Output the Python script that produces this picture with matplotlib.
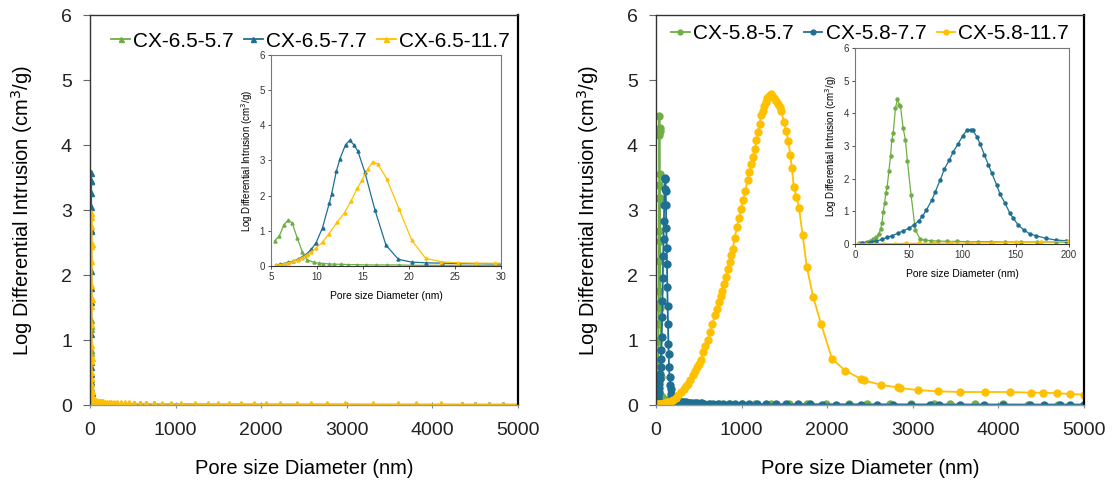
import matplotlib
matplotlib.use("Agg")
import matplotlib.pyplot as plt

plt.rcParams['font.family'] = ['Liberation Sans', 'DejaVu Sans']

GREEN = '#70AD47'
BLUE = '#1F6F93'
GOLD = '#FFC000'

# ---------------- Left panel (CX-6.5 series) ----------------
labels_left = ['CX-6.5-5.7', 'CX-6.5-7.7', 'CX-6.5-11.7']

green_l_x = [5.4, 5.9, 6.4, 6.9, 7.3, 7.85, 8.4, 8.9, 9.7, 10.2, 10.7, 11.3, 11.9, 12.6,
             13.4, 14.3, 15.3, 16.4, 17.6, 18.9, 20.3, 21.9, 23.6, 25.4, 27.3, 29.4]
green_l_y = [0.72, 0.85, 1.17, 1.31, 1.22, 0.80, 0.40, 0.18, 0.10, 0.08, 0.07, 0.06, 0.05, 0.05,
             0.04, 0.04, 0.03, 0.03, 0.03, 0.03, 0.02, 0.02, 0.02, 0.02, 0.02, 0.02]

blue_l_x = [5.5, 6.0, 6.4, 6.9, 7.4, 7.9, 8.4, 8.9, 9.4, 9.9, 10.6, 11.35, 11.6, 12.1, 12.5,
            13.1, 13.55, 14.0, 14.45, 15.2, 16.3, 17.5, 18.85, 20.3, 21.9, 23.6, 25.4, 27.3, 29.4]
blue_l_y = [0.03, 0.05, 0.07, 0.10, 0.14, 0.19, 0.26, 0.35, 0.48, 0.66, 1.09, 1.80, 2.06, 2.69, 3.05,
            3.45, 3.57, 3.45, 3.26, 2.67, 1.59, 0.59, 0.19, 0.11, 0.09, 0.08, 0.07, 0.07, 0.06]

gold_l_x = [5.5, 6.0, 6.4, 6.9, 7.4, 7.9, 8.4, 8.9, 9.4, 9.9, 10.6, 11.3, 12.2, 13.0, 13.7,
            14.4, 14.9, 15.5, 16.05, 16.6, 17.6, 18.9, 20.3, 21.8, 23.5, 25.3, 27.3, 29.4]
gold_l_y = [0.02, 0.04, 0.06, 0.09, 0.13, 0.18, 0.24, 0.32, 0.41, 0.51, 0.68, 0.92, 1.25, 1.52, 1.85,
            2.22, 2.45, 2.75, 2.96, 2.90, 2.47, 1.63, 0.73, 0.22, 0.12, 0.09, 0.08, 0.08]

# large-pore tail (beyond inset range), values read as near zero
tail_l_x = [32, 35, 38, 42, 46, 50, 55, 61, 67, 74, 82, 91, 101, 112, 125, 140, 157, 176, 198,
            223, 251, 283, 319, 360, 406, 458, 517, 584, 660, 746, 843, 952, 1061, 1227, 1373,
            1497, 1622, 1768, 1913, 2059, 2225, 2413, 2579, 2766, 2974, 3307, 3598, 3806, 4098,
            4347, 4493, 4659, 4825, 5000]
tail_green_l_y = [0.02, 0.02, 0.02, 0.02, 0.02, 0.02, 0.02, 0.015, 0.015, 0.015, 0.015, 0.012, 0.012,
                  0.01, 0.01, 0.01, 0.01, 0.01, 0.01, 0.008, 0.008, 0.008, 0.008, 0.007, 0.007, 0.006,
                  0.006, 0.006, 0.005, 0.005, 0.005, 0.005, 0.005, 0.004, 0.004, 0.004, 0.004, 0.004,
                  0.004, 0.003, 0.003, 0.003, 0.003, 0.003, 0.003, 0.003, 0.002, 0.002, 0.002, 0.002,
                  0.002, 0.002, 0.002, 0.002]
tail_blue_l_y = [0.05, 0.05, 0.05, 0.04, 0.04, 0.04, 0.04, 0.035, 0.035, 0.03, 0.03, 0.03, 0.025,
                 0.025, 0.02, 0.02, 0.02, 0.018, 0.016, 0.015, 0.014, 0.013, 0.012, 0.011, 0.01, 0.01,
                 0.009, 0.009, 0.008, 0.008, 0.007, 0.007, 0.007, 0.006, 0.006, 0.006, 0.005, 0.005,
                 0.005, 0.005, 0.004, 0.004, 0.004, 0.004, 0.004, 0.003, 0.003, 0.003, 0.003, 0.003,
                 0.003, 0.003, 0.003, 0.003]
tail_gold_l_y = [0.08, 0.08, 0.07, 0.07, 0.07, 0.06, 0.06, 0.06, 0.055, 0.05, 0.05, 0.05, 0.045,
                 0.045, 0.04, 0.04, 0.04, 0.035, 0.035, 0.03, 0.03, 0.03, 0.028, 0.026, 0.025, 0.024,
                 0.022, 0.02, 0.02, 0.018, 0.017, 0.016, 0.015, 0.014, 0.013, 0.012, 0.012, 0.011,
                 0.011, 0.01, 0.01, 0.01, 0.009, 0.009, 0.009, 0.008, 0.008, 0.008, 0.008, 0.007,
                 0.007, 0.007, 0.007, 0.007]

# ---------------- Right panel (CX-5.8 series) ----------------
labels_right = ['CX-5.8-5.7', 'CX-5.8-7.7', 'CX-5.8-11.7']

green_r_x = [3.7, 7, 11, 14, 17, 20, 22, 23.9, 25.2, 26.4, 27.6, 28.8, 30.1, 31.6, 33.2, 34.4,
             35.7, 37.8, 39.7, 41.5, 42.5, 45.0, 47.1, 49.0, 52.4, 56.4, 61.0, 65.7, 71, 78, 86,
             95, 105, 115, 127, 140, 155, 170, 188]
green_r_y = [0.02, 0.04, 0.07, 0.10, 0.15, 0.22, 0.30, 0.45, 0.65, 0.99, 1.25, 1.55, 1.76, 2.22,
             2.68, 3.19, 3.39, 4.16, 4.44, 4.26, 4.21, 3.55, 3.19, 2.53, 1.50, 0.43, 0.14, 0.12,
             0.10, 0.09, 0.08, 0.08, 0.07, 0.07, 0.07, 0.06, 0.06, 0.06, 0.06]
tail_green_r_x = [205, 230, 262, 300, 345, 400, 465, 540, 630, 735, 860, 1000, 1160, 1340, 1550,
                  1760, 1990, 2250, 2470, 2728, 2980, 3250, 3433, 3727, 4054, 4350, 4700, 5000]
tail_green_r_y = [0.05, 0.05, 0.04, 0.04, 0.035, 0.03, 0.03, 0.025, 0.02, 0.02, 0.018, 0.016, 0.015,
                  0.014, 0.013, 0.012, 0.011, 0.01, 0.01, 0.01, 0.009, 0.009, 0.008, 0.008, 0.008,
                  0.007, 0.007, 0.007]

blue_r_x = [3.7, 7, 10, 13, 16, 20, 25, 30, 35, 40, 45, 50, 55, 59.5, 63, 66.7, 71.9, 75, 79.7,
            83.4, 88, 92, 96.4, 100.8, 104.5, 108.2, 110, 113.8, 116.9, 120.9, 124.7, 127.8, 132.4,
            135.5, 140.2, 144.8, 147.9, 152.6, 157.8, 163.4, 169.6, 178.9, 188.2, 197.5]
blue_r_y = [0.01, 0.02, 0.03, 0.04, 0.06, 0.09, 0.14, 0.20, 0.26, 0.33, 0.40, 0.48, 0.58, 0.71,
            0.85, 1.04, 1.35, 1.60, 1.96, 2.29, 2.56, 2.83, 3.07, 3.32, 3.48, 3.50, 3.48, 3.29,
            3.07, 2.73, 2.42, 2.17, 1.81, 1.53, 1.25, 0.94, 0.79, 0.58, 0.43, 0.31, 0.25, 0.17,
            0.12, 0.10]
tail_blue_r_x = [210, 225, 242, 260, 280, 302, 326, 352, 380, 411, 445, 482, 522, 566, 614, 666,
                 722, 784, 851, 924, 1003, 1090, 1184, 1287, 1400, 1523, 1657, 1803, 1940, 2106,
                 2251, 2396, 2583, 2770, 2977, 3205, 3308, 3557, 3827, 4055, 4366, 4532, 4718,
                 4842, 5000]
tail_blue_r_y = [0.08, 0.07, 0.06, 0.055, 0.05, 0.045, 0.04, 0.04, 0.035, 0.03, 0.03, 0.025, 0.025,
                 0.02, 0.02, 0.018, 0.016, 0.015, 0.014, 0.013, 0.012, 0.011, 0.01, 0.01, 0.009,
                 0.009, 0.008, 0.008, 0.007, 0.007, 0.007, 0.006, 0.006, 0.006, 0.005, 0.005, 0.005,
                 0.005, 0.004, 0.004, 0.004, 0.004, 0.004, 0.004, 0.004]

gold_r_x = [3, 10, 18, 27, 37, 48, 60, 74, 90, 108, 128, 150, 174, 200, 230, 261, 292, 323, 350,
            373, 400, 427, 455, 481, 500, 522, 551, 578, 605, 634, 660, 688, 713, 738, 755, 771,
            792, 813, 838, 862, 880, 896, 920, 945, 970, 995, 1020, 1045, 1070, 1090, 1111, 1132,
            1153, 1174, 1194, 1210, 1227, 1245, 1265, 1282, 1298, 1320, 1339, 1360, 1381, 1400,
            1422, 1443, 1464, 1493, 1520, 1546, 1568, 1588, 1609, 1640, 1671, 1712, 1762, 1837,
            1928, 2056, 2210, 2396, 2430, 2624, 2830, 2852, 3060, 3300, 3557, 3840, 4138, 4386,
            4520, 4690, 4842, 5000]
gold_r_y = [0.0, 0.0, 0.01, 0.01, 0.01, 0.02, 0.02, 0.02, 0.03, 0.03, 0.04, 0.05, 0.06, 0.08,
            0.11, 0.15, 0.20, 0.25, 0.29, 0.33, 0.39, 0.46, 0.52, 0.58, 0.63, 0.69, 0.82, 0.91,
            1.00, 1.13, 1.25, 1.38, 1.48, 1.58, 1.67, 1.76, 1.86, 1.97, 2.09, 2.20, 2.31, 2.40,
            2.57, 2.74, 2.88, 3.02, 3.15, 3.30, 3.46, 3.58, 3.71, 3.82, 3.94, 4.07, 4.20, 4.33,
            4.46, 4.53, 4.60, 4.66, 4.72, 4.76, 4.78, 4.76, 4.72, 4.67, 4.63, 4.59, 4.53, 4.35,
            4.22, 4.06, 3.85, 3.64, 3.36, 3.20, 3.03, 2.62, 2.12, 1.66, 1.25, 0.71, 0.53, 0.40,
            0.38, 0.31, 0.27, 0.26, 0.23, 0.21, 0.20, 0.20, 0.20, 0.19, 0.19, 0.18, 0.17, 0.16]

main_xticks = [0, 1000, 2000, 3000, 4000, 5000]
main_yticks = [0, 1, 2, 3, 4, 5, 6]
inset_l_xticks = [5, 10, 15, 20, 25, 30]
inset_r_xticks = [0, 50, 100, 150, 200]

YLABEL = 'Log Differential Intrusion (cm$^3$/g)'
XLABEL = 'Pore size Diameter (nm)'

W, H = 1116, 490
fig = plt.figure(figsize=(W / 100, H / 100), dpi=100)


def frac(x0, y0, x1, y1):
    return [x0 / W, 1 - y1 / H, (x1 - x0) / W, (y1 - y0) / H]


def style_main(ax):
    ax.set_xlim(0, 5000)
    ax.set_ylim(0, 6)
    ax.set_xticks(main_xticks)
    ax.set_yticks(main_yticks)
    ax.tick_params(axis='both', labelsize=14, colors='#222222')
    ax.tick_params(axis='y', direction='out', length=5, width=0.8, color='#666666', pad=8)
    ax.tick_params(axis='x', direction='inout', length=5, width=0.8, color='#888888', pad=10)
    for s in ['top', 'left']:
        ax.spines[s].set_color('#333333')
        ax.spines[s].set_linewidth(1.0)
    ax.spines['right'].set_color('#000000')
    ax.spines['right'].set_linewidth(1.6)
    ax.spines['bottom'].set_color('#999999')
    ax.spines['bottom'].set_linewidth(1.0)
    ax.set_ylabel(YLABEL, fontsize=14.5, labelpad=19)
    ax.set_xlabel(XLABEL, fontsize=14.5, labelpad=14)


def style_inset(ax, xlim, xticks):
    ax.set_xlim(*xlim)
    ax.set_ylim(0, 6)
    ax.set_xticks(xticks)
    ax.set_yticks(main_yticks)
    ax.tick_params(axis='both', labelsize=7, colors='#333333', length=2.5, width=0.6, pad=2)
    for s in ax.spines.values():
        s.set_color('#777777')
        s.set_linewidth(0.8)
    ax.spines['bottom'].set_color('#333333')
    ax.set_ylabel(YLABEL, fontsize=7, labelpad=3)
    ax.set_xlabel(XLABEL, fontsize=7.5, labelpad=6)


# ----- Left main -----
axL = fig.add_axes(frac(90, 15, 518, 405))
mk_l = dict(marker='^', markersize=4.5, linewidth=1.3)
axL.plot(green_l_x + tail_l_x, green_l_y + tail_green_l_y, color=GREEN, label=labels_left[0], **mk_l)
axL.plot(blue_l_x + tail_l_x, blue_l_y + tail_blue_l_y, color=BLUE, label=labels_left[1], **mk_l)
axL.plot(gold_l_x + tail_l_x, gold_l_y + tail_gold_l_y, color=GOLD, label=labels_left[2], **mk_l)
style_main(axL)
axL.legend(loc='center', bbox_to_anchor=(0.515, 0.933), ncol=3, frameon=False, fontsize=15,
           handlelength=0.9, handletextpad=0.15, columnspacing=0.5, borderaxespad=0,
           markerscale=0.8)

# ----- Left inset -----
axLi = fig.add_axes(frac(271, 55, 501, 266))
mk_li = dict(marker='^', markersize=2.2, linewidth=0.9)
axLi.plot(green_l_x + tail_l_x, green_l_y + tail_green_l_y, color=GREEN, **mk_li)
axLi.plot(blue_l_x + tail_l_x, blue_l_y + tail_blue_l_y, color=BLUE, **mk_li)
axLi.plot(gold_l_x + tail_l_x, gold_l_y + tail_gold_l_y, color=GOLD, **mk_li)
style_inset(axLi, (5, 30), inset_l_xticks)

# ----- Right main -----
axR = fig.add_axes(frac(656, 15, 1084, 405))
mk_r = dict(marker='o', markersize=5, linewidth=1.3)
axR.plot(green_r_x + tail_green_r_x, green_r_y + tail_green_r_y, color=GREEN, label=labels_right[0], **mk_r)
axR.plot(blue_r_x + tail_blue_r_x, blue_r_y + tail_blue_r_y, color=BLUE, label=labels_right[1], **mk_r)
axR.plot(gold_r_x, gold_r_y, color=GOLD, label=labels_right[2], **mk_r)
style_main(axR)
axR.legend(loc='center', bbox_to_anchor=(0.5, 0.952), ncol=3, frameon=False, fontsize=15,
           handlelength=0.9, handletextpad=0.15, columnspacing=0.5, borderaxespad=0,
           markerscale=0.7)

# ----- Right inset -----
axRi = fig.add_axes(frac(855, 48, 1069, 244))
mk_ri = dict(marker='o', markersize=2.2, linewidth=0.9)
axRi.plot(green_r_x + tail_green_r_x, green_r_y + tail_green_r_y, color=GREEN, **mk_ri)
axRi.plot(blue_r_x + tail_blue_r_x, blue_r_y + tail_blue_r_y, color=BLUE, **mk_ri)
axRi.plot(gold_r_x, gold_r_y, color=GOLD, **mk_ri)
style_inset(axRi, (0, 200), inset_r_xticks)

fig.savefig('out.png', dpi=100)
